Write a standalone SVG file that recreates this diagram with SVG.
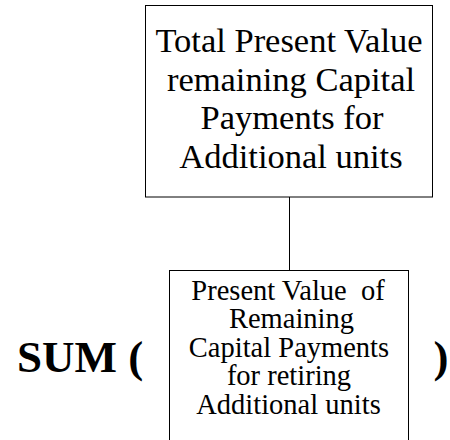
<svg xmlns="http://www.w3.org/2000/svg" width="450" height="440" viewBox="0 0 450 440">
<style>
.box{fill:#fff;stroke:#000;stroke-width:1}
.t{font-family:"Liberation Serif","Times New Roman",serif;fill:#000;text-anchor:middle;white-space:pre}
.big{font-size:34.5px}
.small{font-size:28.5px}
.sum{font-family:"Liberation Serif","Times New Roman",serif;font-weight:bold;font-size:45px;fill:#000}
.conn{stroke:#000;stroke-width:1;fill:none}
</style>
<rect width="450" height="440" fill="#fff"/>
<g id="connectors">
<line class="conn" x1="289.5" y1="197" x2="289.5" y2="270"/>
</g>
<g id="total">
<rect class="box" x="145.5" y="5.5" width="287" height="191.5"/>
<text class="t big" x="289" y="52">Total Present Value</text>
<text class="t big" x="291" y="91">remaining Capital</text>
<text class="t big" x="292" y="129">Payments for</text>
<text class="t big" x="291" y="168">Additional units</text>
</g>
<g id="pv">
<rect class="box" x="169.5" y="270.5" width="239" height="180"/>
<text class="t small" x="288" y="300" xml:space="preserve">Present Value  of</text>
<text class="t small" x="291.5" y="328">Remaining</text>
<text class="t small" x="289" y="357">Capital Payments</text>
<text class="t small" x="289" y="385">for retiring</text>
<text class="t small" x="288.5" y="414">Additional units</text>
</g>
<g id="sum">
<text class="sum" x="17" y="372">SUM (</text>
<text class="sum" x="433.5" y="372">)</text>
</g>
</svg>
